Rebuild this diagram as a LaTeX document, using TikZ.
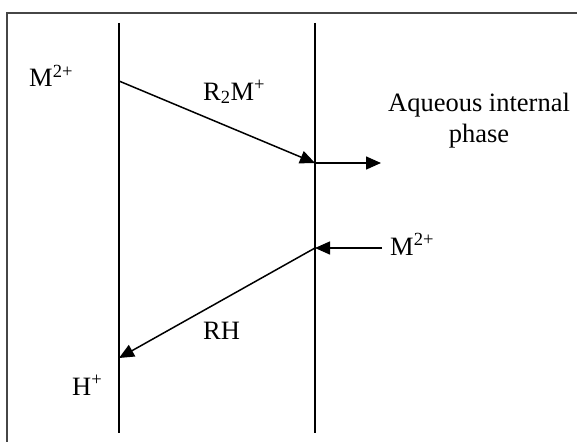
\documentclass[tikz,border=0pt]{standalone}
\usepackage{fontspec}
\setmainfont{Liberation Serif}
\usepackage{tikz}
\usetikzlibrary{arrows.meta}
\definecolor{framegray}{RGB}{70,70,70}

\begin{document}
\begin{tikzpicture}[x=1pt,y=-1pt,
  lbl/.style={inner sep=0pt,anchor=base west,font=\fontsize{26.5}{31}\selectfont},
  wall/.style={line width=1.5pt,black},
  flow/.style={-{Triangle[length=15pt,width=13pt]},line width=1.5pt,black}]
  \useasboundingbox (0,0) rectangle (577,441);
  \clip (0,0) rectangle (577,441);
  \draw[framegray,line width=1.7pt] (7,13) rectangle (600,470);
  % membrane walls
  \coordinate (lt) at (119,23);
  \coordinate (lb) at (119,433);
  \coordinate (rt) at (315,23);
  \coordinate (rb) at (315,433);
  \draw[wall] (lt) -- (lb);
  \draw[wall] (rt) -- (rb);
  % points on the walls
  \coordinate (l1) at (119,81);
  \coordinate (r1) at (315,163);
  \coordinate (o1) at (381,163);
  \coordinate (i2) at (382,248);
  \coordinate (r2) at (315,248);
  \coordinate (l2) at (119,358);
  % labels
  \node[lbl] (mleft) at (29,87) {M\textsuperscript{2+}};
  \node[lbl] (cplx) at (203,100) {R\textsubscript{2}M\textsuperscript{+}};
  \node[lbl,anchor=base,align=center] (aq) at (479,142) {Aqueous internal\\phase};
  \node[lbl] (mright) at (390,255) {M\textsuperscript{2+}};
  \node[lbl] (rh) at (203,339) {RH};
  \node[lbl] (hion) at (72,395) {H\textsuperscript{+}};
  % fluxes
  \draw[flow] (l1) -- (r1);
  \draw[flow] (r1) -- (o1);
  \draw[flow] (i2) -- (r2);
  \draw[flow] (r2) -- (l2);
\end{tikzpicture}
\end{document}
